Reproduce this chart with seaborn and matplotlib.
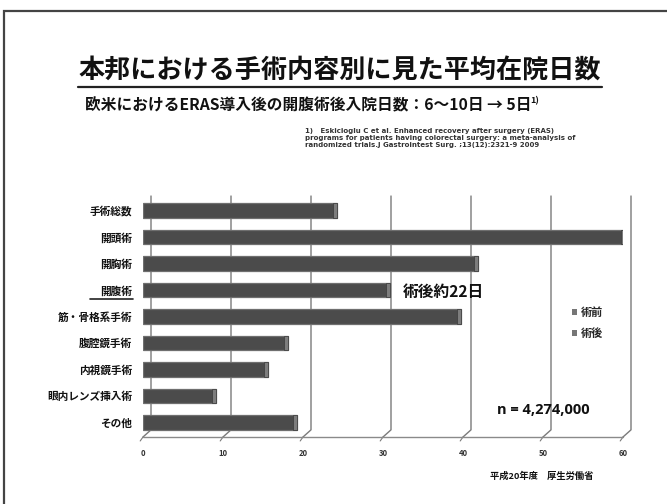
import numpy as np
import pandas as pd
import matplotlib
matplotlib.use('Agg')
import matplotlib.pyplot as plt
import seaborn as sns
from matplotlib.patches import Rectangle
from matplotlib.lines import Line2D

# Data (average hospital stay, days)
categories = ['手術総数', '開頭術', '開胸術', '開腹術', '筋・骨格系手術',
              '腹腔鏡手術', '内視鏡手術', '眼内レンズ挿入術', 'その他']
days = [24.3, 60.2, 41.9, 30.9, 39.7, 18.1, 15.6, 9.1, 19.2]
legend_labels = ['術前', '術後']
x_ticks = [0, 10, 20, 30, 40, 50, 60]

sns.set_theme(style='white')
plt.rcParams['font.family'] = ['Noto Sans CJK JP', 'DejaVu Sans']
plt.rcParams['font.weight'] = 'bold'

W, H = 667, 504
fig = plt.figure(figsize=(W / 100, H / 100), dpi=100)
fig.patch.set_facecolor('white')

# slide frame
fig.patches.append(Rectangle((3.5 / W, -0.1), 1.2, 1 - 10.5 / H + 0.1,
                             transform=fig.transFigure, fill=False,
                             edgecolor='#444444', linewidth=1.6))

# titles
fig.text(340 / W, 1 - 71 / H, '本邦における手術内容別に見た平均在院日数',
         ha='center', va='center', fontsize=18.8, fontweight='bold', color='#111111')
fig.add_artist(Line2D([78 / W, 602 / W], [1 - 87 / H, 1 - 87 / H],
                      transform=fig.transFigure, color='#222222', linewidth=1.6))
sub = fig.text(85 / W, 1 - 105 / H, '欧米におけるERAS導入後の開腹術後入院日数：6～10日 → 5日',
               ha='left', va='center', fontsize=11.3, fontweight='bold', color='#111111')
fig.canvas.draw()
bb = sub.get_window_extent()
fig.text((bb.x1 - 1) / W, 1 - 101 / H, '1)', ha='left', va='center',
         fontsize=6.5, fontweight='bold', color='#111111')

fig.text(305 / W, 1 - 128 / H,
         '1)   Eskicioglu C et al. Enhanced recovery after surgery (ERAS)\n'
         'programs for patients having colorectal surgery: a meta-analysis of\n'
         'randomized trials.J Gastrointest Surg. ;13(12):2321-9 2009',
         ha='left', va='top', fontsize=5, fontweight='bold', color='#333333',
         family=['DejaVu Sans'], linespacing=1.15)

# chart area
ax = fig.add_axes([143 / W, 1 - 437 / H, 480 / W, 241 / H])
df = pd.DataFrame({'category': categories, 'days': days})
sns.barplot(data=df, x='days', y='category', orient='h', ax=ax,
            color='#4b4b4b', width=0.55, edgecolor='#6f6f6f', linewidth=0.9,
            saturation=1)
# small lighter end cap to mimic the 3D bars
for p in list(ax.patches):
    ax.add_patch(Rectangle((p.get_x() + p.get_width() - 0.5, p.get_y()),
                           0.5, p.get_height(),
                           facecolor='#7d7d7d', edgecolor='#3a3a3a',
                           linewidth=0.5, zorder=3))

ax.set_xlim(0, 60)
ax.set_ylim(8.55, -0.55)
ax.set_xticks(x_ticks)
ax.set_xticklabels([str(t) for t in x_ticks], fontsize=5.5, fontweight='bold', color='#333333')
ax.tick_params(axis='x', length=0, pad=9)
ax.set_yticks(range(len(categories)))
ax.set_yticklabels(categories, fontsize=7.7, fontweight='bold', color='#111111')
ax.tick_params(axis='y', length=0, pad=8)
ax.set_yticks(np.arange(-0.5, len(categories), 1), minor=True)
ax.tick_params(axis='y', which='minor', length=3, color='#777777', width=0.8, direction='out')
ax.set_xlabel('')
ax.set_ylabel('')
for s in ax.spines.values():
    s.set_visible(False)

# 3D-style back wall grid lines
dx, dy = 1.0, 0.27
y_top, y_bot = ax.get_ylim()[1], ax.get_ylim()[0]
for t in x_ticks:
    ax.plot([t + dx, t + dx, t], [y_top, y_bot - dy, y_bot],
            color='#7a7a7a', linewidth=1.0, zorder=0, clip_on=False)
    ax.plot([t, t - 0.35], [y_bot, y_bot + 0.15], color='#7a7a7a',
            linewidth=0.8, zorder=0, clip_on=False)
ax.plot([0, 60], [y_bot, y_bot], color='#8a8a8a', linewidth=1.0, clip_on=False, zorder=0)

# underline for the highlighted category
fig.add_artist(Line2D([90 / W, 133 / W], [1 - 299 / H, 1 - 299 / H],
                      transform=fig.transFigure, color='#222222', linewidth=1.2))

# annotations
fig.text(403 / W, 1 - 292 / H, '術後約22日', ha='left', va='center',
         fontsize=11.3, fontweight='bold', color='#111111')
fig.text(497 / W, 1 - 410 / H, 'n = 4,274,000', ha='left', va='center',
         fontsize=10.5, fontweight='bold', color='#111111',
         family=['Open Sans', 'DejaVu Sans'])
fig.text(490 / W, 1 - 476 / H, '平成20年度　厚生労働省', ha='left', va='center',
         fontsize=6.7, fontweight='bold', color='#111111')

# legend
handles = [Rectangle((0, 0), 1, 1, facecolor=c, edgecolor='none')
           for c in ['#767676', '#767676']]
fig.legend(handles, legend_labels, loc='upper left',
           bbox_to_anchor=(572 / W, 1 - 306 / H), frameon=False,
           prop={'size': 8, 'weight': 'bold'}, handlelength=0.45,
           handleheight=0.45, handletextpad=0.35, labelspacing=0.75,
           borderaxespad=0, borderpad=0)

fig.savefig('out.png', dpi=100, facecolor='white')
